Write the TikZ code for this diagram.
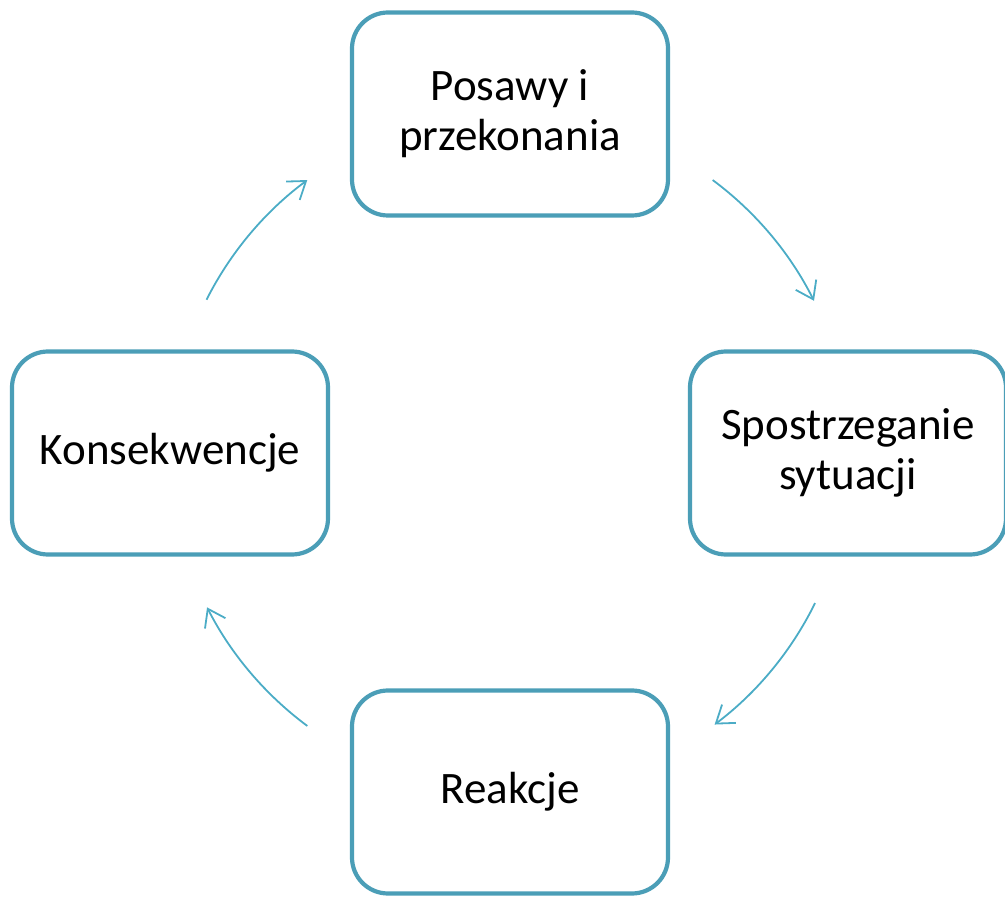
\documentclass[tikz,border=0pt]{standalone}
\usepackage{fontspec}
\setmainfont{Carlito}
\usetikzlibrary{arrows.meta,positioning}

\definecolor{boxline}{RGB}{75,158,183}
\definecolor{arrline}{RGB}{75,172,198}

\begin{document}
\begin{tikzpicture}[
    x=1pt,y=1pt,
    font=\fontsize{45}{50}\selectfont,
    box/.style={draw=boxline,line width=4.2pt,rounded corners=36pt,
                minimum width=316pt,minimum height=203pt,fill=white,align=center},
    >={Straight Barb[angle=70:20pt,line width=1.8pt]},
    arr/.style={->,draw=arrline,line width=1.8pt}
  ]
  \useasboundingbox (-510,-444) rectangle (495,453);
  \coordinate (mid) at (0,0);

  \node[box] (attitude)  at (0,339)  {Posawy i\\przekonania};
  \node[box] (percept)   at (338,0)  {Spostrzeganie\\sytuacji};
  \node[box] (reaction)  at (0,-339) {Reakcje};
  \node[box] (result)    at (-340,0) {Konsekwencje};

  % arcs of one circle round the middle
  \path (mid) ++(53.4:340)   coordinate (a1);
  \path (mid) ++(-26.2:340)  coordinate (a2);
  \path (mid) ++(-126.6:340) coordinate (a3);
  \path (mid) ++(153.2:340)  coordinate (a4);

  \draw[arr] (a1) arc[start angle=53.4,end angle=26.6,radius=340];
  \draw[arr] (a2) arc[start angle=-26.2,end angle=-53,radius=340];
  \draw[arr] (a3) arc[start angle=-126.6,end angle=-153,radius=340];
  \draw[arr] (a4) arc[start angle=153.2,end angle=126.6,radius=340];
\end{tikzpicture}
\end{document}
